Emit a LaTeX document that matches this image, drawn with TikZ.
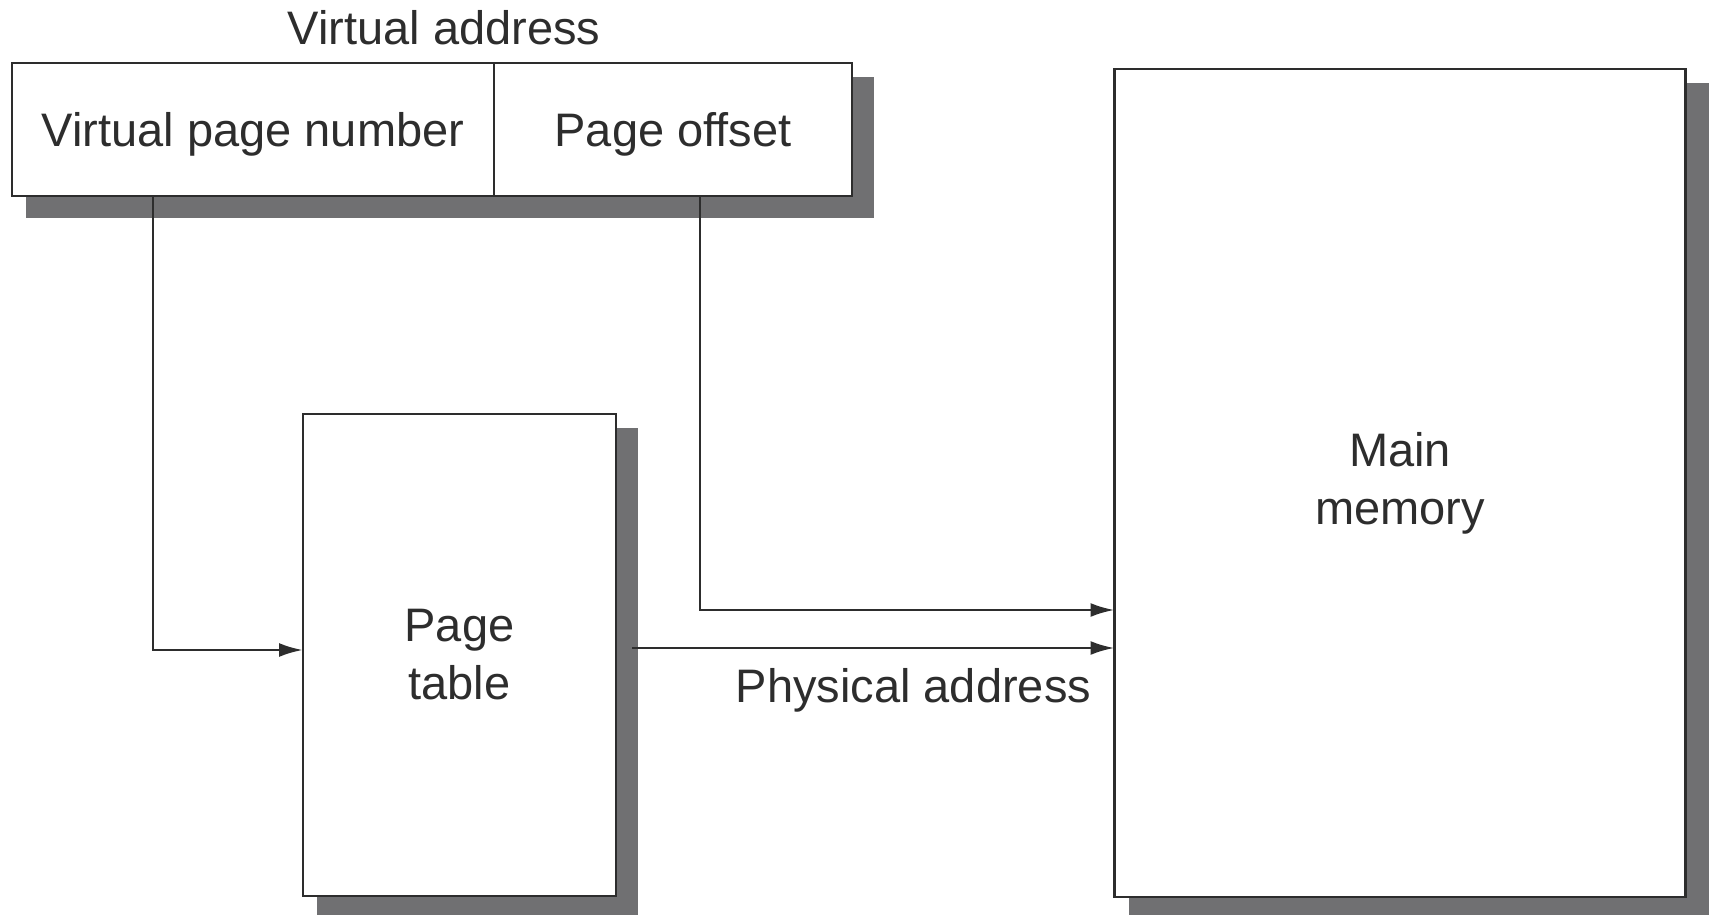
\documentclass[tikz,border=0pt]{standalone}
\usepackage{fontspec}
\setmainfont{Liberation Sans}
\usepackage{tikz}
\usetikzlibrary{calc,positioning,backgrounds,arrows.meta}
\definecolor{inkgray}{RGB}{45,45,45}
\definecolor{shadowgray}{RGB}{112,112,114}

\begin{document}
\begin{tikzpicture}[x=0.5pt, y=-0.5pt, line width=1.4pt, text=inkgray,
    font=\fontsize{23.5}{29}\selectfont,
    box/.style={draw=inkgray, rectangle, fill=white, inner sep=0pt, outer sep=0pt, align=center},
    arr/.style={draw=inkgray, -{Latex[length=12pt,width=7pt]}}]
    \useasboundingbox (0,0) rectangle (1709,915);

    \node (vpn) [box, text depth=0pt, minimum width=241pt, minimum height=66.5pt] at (253,129.5) {Virtual page number};
    \node (off) [box, text depth=0pt, minimum width=179pt, minimum height=66.5pt, right=0pt of vpn] {Page offset};
    \node (va) at (444,28) {Virtual address};
    \node (pt) [box, minimum width=156.5pt, minimum height=241pt] at (459.5,655) {Page\\table};
    \node (mm) [box, minimum width=285.5pt, minimum height=414pt] at (1400,483) {Main\\memory};

    \begin{scope}[on background layer]
        \fill[shadowgray] ($(vpn.north west)+(14,14)$) rectangle ($(off.south east)+(22,22)$);
        \fill[shadowgray] ($(pt.north west)+(14,14)$) rectangle ($(pt.south east)+(22,22)$);
        \fill[shadowgray] ($(mm.north west)+(14,14)$) rectangle ($(mm.south east)+(30,22)$);
    \end{scope}

    \draw[arr] ([xshift=-50pt]vpn.south) |- ([yshift=2.5pt]pt.west);
    \draw[arr] ([xshift=13.5pt]off.south) |- ([yshift=-63.5pt]mm.west);
    \draw[arr] ([xshift=8pt,yshift=3.5pt]pt.east) -- ($(pt.east -| mm.west)+(0,-7)$)
        node[pos=1, anchor=north east, inner sep=0pt, xshift=-11pt, yshift=-9.5pt] (phys) {Physical address};
\end{tikzpicture}
\end{document}
